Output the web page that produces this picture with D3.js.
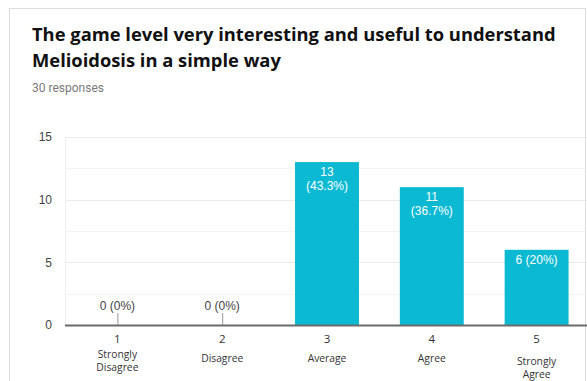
<!DOCTYPE html>
<html>
<head>
<meta charset="utf-8">
<script src="https://cdn.jsdelivr.net/npm/d3@7"></script>
<style>
  html, body { margin: 0; padding: 0; background: #fff; }
  svg { display: block; }
</style>
</head>
<body>
<svg id="chart" width="587" height="381"></svg>
<script>
// Survey answers on a 1–5 Likert scale
const codes = ["1", "2", "3", "4", "5"];
const names = [["Strongly", "Disagree"], ["Disagree"], ["Average"], ["Agree"], ["Strongly", "Agree"]];
const counts = [0, 0, 13, 11, 6];
const total = 30;
const yTicks = [0, 5, 10, 15];
const gridTicks = [2.5, 5, 7.5, 10, 12.5, 15];

const svg = d3.select("#chart");

// card frame
svg.append("rect")
  .attr("x", 9.5).attr("y", 8.5)
  .attr("width", 576).attr("height", 400)
  .attr("fill", "#fff").attr("stroke", "#dcdcdc");

// heading, fitted to the card width
const titleLines = ["The game level very interesting and useful to understand", "Melioidosis in a simple way"];
const title = svg.append("text")
  .attr("font-family", "'Open Sans', Lato, sans-serif")
  .attr("font-weight", 700).attr("font-size", 18)
  .attr("fill", "#111");
const t1 = title.append("tspan").attr("x", 32).attr("y", 41).text(titleLines[0]);
title.append("tspan").attr("x", 32).attr("y", 67).text(titleLines[1]);
const w1 = t1.node().getComputedTextLength();
if (w1 > 0) title.attr("font-size", 18 * 524 / w1);

svg.append("text")
  .attr("x", 32).attr("y", 92)
  .attr("font-family", "Roboto, Arial, sans-serif")
  .attr("font-size", 12).attr("fill", "#7a7a7a")
  .text(total + " responses");

// scales
const plotL = 65, plotR = 589, plotT = 137, plotB = 325;
const x = d3.scaleBand().domain(codes).range([plotL, plotR]).paddingInner(0.39).paddingOuter(0.195);
const y = d3.scaleLinear().domain([0, 15]).range([plotB, plotT]);

// grid
svg.append("g").selectAll("line").data(gridTicks).join("line")
  .attr("x1", plotL).attr("x2", plotR)
  .attr("y1", d => Math.round(y(d)) + 0.5).attr("y2", d => Math.round(y(d)) + 0.5)
  .attr("stroke", d => d % 5 === 0 ? "#ebebeb" : "#f3f3f3");
svg.append("line")
  .attr("x1", plotL + 0.5).attr("x2", plotL + 0.5)
  .attr("y1", plotT).attr("y2", plotB)
  .attr("stroke", "#efefef");

// y axis labels
const yAxis = svg.append("g")
  .attr("transform", `translate(${plotL - 13},0)`)
  .call(d3.axisLeft(y).tickValues(yTicks).tickSize(0).tickPadding(0));
yAxis.select(".domain").remove();
yAxis.selectAll("text")
  .attr("font-family", "'Liberation Sans', Arial, sans-serif")
  .attr("font-size", 12).attr("fill", "#444");

// bars
const rows = codes.map((c, i) => ({ code: c, name: names[i], count: counts[i] }));
svg.append("g").selectAll("rect").data(rows).join("rect")
  .attr("x", d => x(d.code))
  .attr("y", d => y(d.count))
  .attr("width", x.bandwidth())
  .attr("height", d => y(0) - y(d.count))
  .attr("fill", "#0bb9d3");

const pct = d => {
  const p = d.count / total * 100;
  return (Math.round(p * 10) / 10) + "%";
};

// value labels
const vl = svg.append("g")
  .attr("font-family", "'Liberation Sans', Arial, sans-serif")
  .attr("font-size", 12).attr("text-anchor", "middle");
rows.forEach(d => {
  const cx = x(d.code) + x.bandwidth() / 2;
  if (d.count === 0) {
    vl.append("text").attr("x", cx).attr("y", y(0) - 15)
      .attr("fill", "#444").text(`${d.count} (${pct(d)})`);
    vl.append("line").attr("x1", cx + 0.5).attr("x2", cx + 0.5)
      .attr("y1", y(0) - 12).attr("y2", y(0))
      .attr("stroke", "#999");
  } else if (y(0) - y(d.count) > 100) {
    const t = vl.append("text").attr("fill", "#fff");
    t.append("tspan").attr("x", cx).attr("y", y(d.count) + 14).text(d.count);
    t.append("tspan").attr("x", cx).attr("y", y(d.count) + 28).text(`(${pct(d)})`);
  } else {
    vl.append("text").attr("x", cx).attr("y", y(d.count) + 14)
      .attr("fill", "#fff").text(`${d.count} (${pct(d)})`);
  }
});

// x axis line
svg.append("line")
  .attr("x1", plotL).attr("x2", plotR)
  .attr("y1", y(0) + 0.5).attr("y2", y(0) + 0.5)
  .attr("stroke", "#6b6b6b").attr("stroke-width", 2);

// x axis labels
const xl = svg.append("g").attr("text-anchor", "middle");
rows.forEach((d, i) => {
  const cx = x(d.code) + x.bandwidth() / 2;
  xl.append("text").attr("x", cx).attr("y", 343)
    .attr("font-family", "'Open Sans', sans-serif")
    .attr("font-size", 11.5).attr("fill", "#333").text(d.code);
  const first = d.name.length > 1 ? (i === 4 ? 365 : 358) : 362;
  d.name.forEach((line, k) => {
    xl.append("text").attr("x", cx).attr("y", first + k * 13)
      .attr("font-family", "'Open Sans', sans-serif")
      .attr("font-size", 10.3).attr("fill", "#333").text(line);
  });
});
</script>
</body>
</html>
